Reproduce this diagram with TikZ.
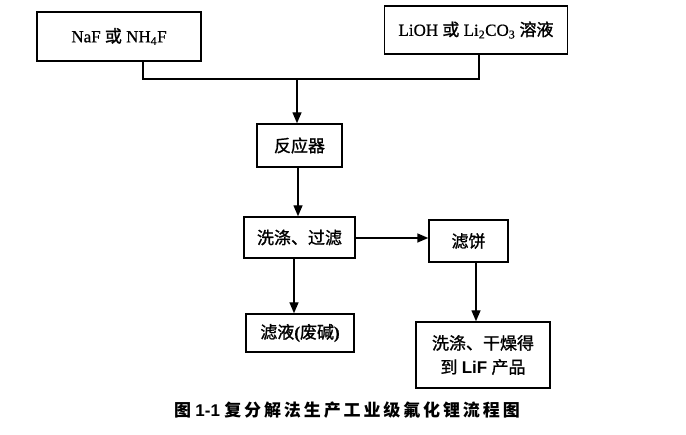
\documentclass[tikz,border=0pt]{standalone}
\usepackage{fontspec}
\setmainfont[FakeBold=0.6]{Liberation Serif}
\setsansfont{Liberation Sans}
\newfontfamily\cjk[FakeBold=1.2]{Noto Sans CJK SC}
\newfontfamily\capfont[LetterSpace=17]{Noto Sans CJK SC}
\usetikzlibrary{arrows.meta}
\begin{document}
\begin{tikzpicture}[x=1pt,y=-1pt,
  box/.style={draw,line width=1.4pt,rectangle,inner sep=0pt,align=center,font=\fontsize{17}{24}\selectfont},
  conn/.style={line width=1.4pt},
  arr/.style={line width=1.4pt,-{Triangle[length=11pt,width=9pt]}}]
\useasboundingbox (0,0) rectangle (686,435);
\node[box,minimum width=164pt,minimum height=49pt] (naf) at (119,36.5) {NaF {\cjk 或} NH\textsubscript{4}F};
\node[box,minimum width=183pt,minimum height=48pt] (lioh) at (476,30) {LiOH {\cjk 或} Li\textsubscript{2}CO\textsubscript{3} {\cjk 溶液}};
\node[box,minimum width=85pt,minimum height=43pt] (reactor) at (299.5,145.5) {\cjk 反应器};
\node[box,minimum width=111pt,minimum height=41pt] (wash) at (299.5,237.5) {\cjk 洗涤、过滤};
\node[box,minimum width=79pt,minimum height=42pt] (cake) at (468.5,241) {\cjk 滤饼};
\node[box,minimum width=108pt,minimum height=38pt] (filtrate) at (300,333) {{\cjk 滤液}\textbf{(}{\cjk 废碱}\textbf{)}};
\node[box,minimum width=134pt,minimum height=66pt] (product) at (483,355) {{\cjk 洗涤、干燥得}\\{\cjk 到} {\sffamily\bfseries LiF} {\cjk 产品}};
\node[font=\fontsize{17}{20}\selectfont] (cap) at (347,410) {{\capfont\bfseries 图} {\sffamily\bfseries 1-1} {\capfont\bfseries 复分解法生产工业级氟化锂流程图}};
\coordinate (j1) at (143,79);
\coordinate (j2) at (479,79);
\coordinate (jm) at (297,79);
\draw[conn] (naf.south -| j1) -- (j1) -- (j2) -- (lioh.south -| j2);
\draw[arr] (jm) -- (reactor.north -| jm);
\draw[arr] ([xshift=-1.5pt]reactor.south) -- ([xshift=-1.5pt]reactor.south |- wash.north);
\draw[arr] ([yshift=-0.5pt]wash.east) -- ([yshift=-0.5pt]wash.east -| cake.west);
\draw[arr] ([xshift=-5.5pt]wash.south) -- ([xshift=-5.5pt]wash.south |- filtrate.north);
\draw[arr] ([xshift=7.5pt]cake.south) -- ([xshift=7.5pt]cake.south |- product.north);
\end{tikzpicture}
\end{document}
